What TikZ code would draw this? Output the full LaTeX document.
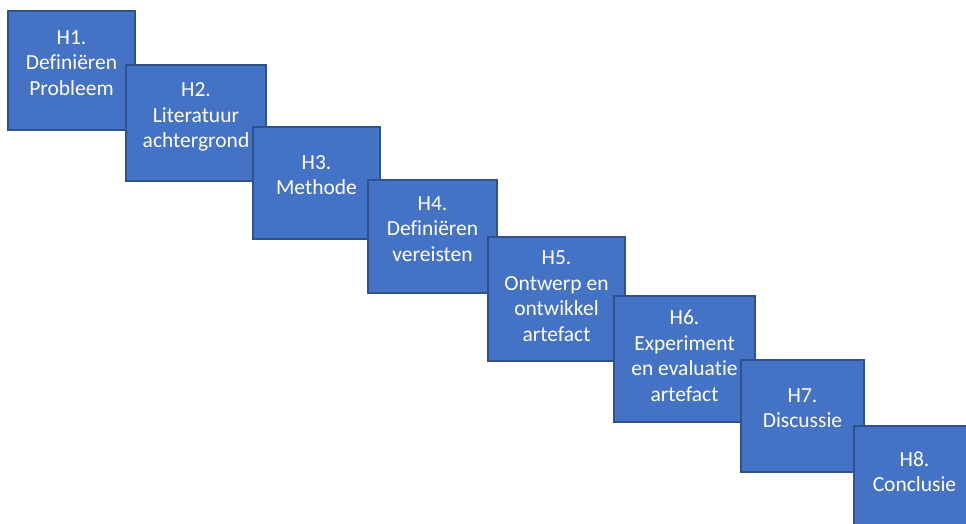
\documentclass[tikz,border=0pt]{standalone}
\usepackage{fontspec}
\setmainfont{Carlito}[Ligatures=NoCommon]
\definecolor{boxfill}{HTML}{4472C4}
\definecolor{boxline}{HTML}{2F528F}
\begin{document}
\begin{tikzpicture}[x=1pt,y=-1pt,
  stepbox/.style={draw=boxline, line width=1.5pt, fill=boxfill, inner sep=0pt},
  steptext/.style={text=white, align=center, inner sep=0pt, yshift=6pt,
    font=\fontsize{21.5}{25.5}\selectfont}]
\useasboundingbox (0,0) rectangle (966,524);
\clip (0,0) rectangle (966,524);
% staircase of chapters, each step drawn over the previous one
\node[stepbox, minimum width=127pt, minimum height=119pt] (h1) at (71.5,70.5) {};
\node[steptext] (t1) at (h1.center) {\strut H1.\\\strut Definiëren\\\strut Probleem};
\node[stepbox, minimum width=140pt, minimum height=116pt] (h2) at (196,123) {};
\node[steptext] (t2) at (h2.center) {\strut H2.\\\strut Literatuur\\\strut achtergrond};
\node[stepbox, minimum width=127pt, minimum height=112pt] (h3) at (316.5,183) {};
\node[steptext] (t3) at (h3.center) {\strut H3.\\\strut Methode};
\node[stepbox, minimum width=129pt, minimum height=113pt] (h4) at (432.5,236.5) {};
\node[steptext] (t4) at (h4.center) {\strut H4.\\\strut Definiëren\\\strut vereisten};
\node[stepbox, minimum width=137pt, minimum height=124pt] (h5) at (556.5,299) {};
\node[steptext, yshift=-5pt] (t5) at (h5.center) {\strut H5.\\\strut Ontwerp en\\\strut ontwikkel\\\strut artefact};
\node[stepbox, minimum width=141pt, minimum height=126pt] (h6) at (684.5,359) {};
\node[steptext, yshift=-5pt] (t6) at (h6.center) {\strut H6.\\\strut Experiment\\\strut en evaluatie\\\strut artefact};
\node[stepbox, minimum width=123pt, minimum height=112pt] (h7) at (802.5,416) {};
\node[steptext] (t7) at (h7.center) {\strut H7.\\\strut Discussie};
\node[stepbox, minimum width=121pt, minimum height=108pt] (h8) at (914.5,480) {};
\node[steptext] (t8) at (h8.center) {\strut H8.\\\strut Conclusie};
\end{tikzpicture}
\end{document}
